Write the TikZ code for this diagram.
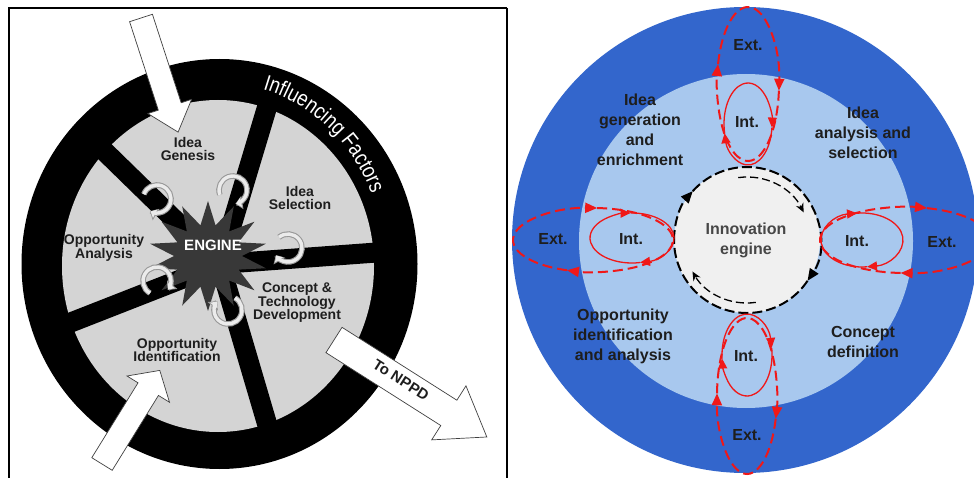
\documentclass[tikz,border=0pt]{standalone}
\usepackage{fontspec}
\setmainfont{Liberation Sans}
\newfontfamily\ringfont[FakeStretch=0.84]{Liberation Sans}
\usetikzlibrary{shapes.geometric,arrows.meta,decorations.text}

\definecolor{ringblue}{HTML}{3366CC}
\definecolor{innerblue}{HTML}{A8C8EE}
\definecolor{enginegray}{HTML}{F0F0F0}
\definecolor{loopred}{HTML}{F01818}
\definecolor{segmentgray}{HTML}{D4D4D4}
\definecolor{inkdark}{HTML}{1E1E1E}

\newcommand\ringstyle{\ringfont\fontsize{22}{22}\selectfont}

% block arrow: x, y of the tail centre, direction, length,
% shaft half width, head half width, head length
\newcommand\blockarrowat[7]{%
  \begin{scope}[shift={(#1,#2)}, rotate=#3]
    \filldraw[blockarrow] (0,-#5) -- ({#4-#7},-#5) -- ({#4-#7},-#6) -- (#4,0)
      -- ({#4-#7},#6) -- ({#4-#7},#5) -- (0,#5) -- cycle;
  \end{scope}}

% curled arrow wrapped round a spoke: centre x, y, start angle
\newcommand\curlat[3]{%
  \draw[curlout] (#1,#2) ++(#3:14) arc[start angle=#3, end angle={#3+280}, radius=14];
  \draw[curlin]  (#1,#2) ++(#3:14) arc[start angle=#3, end angle={#3+277}, radius=14];}

% closed loop with two arrow heads: style, centre, rx, ry, first tip angle, second tip angle
\newcommand\loopring[6]{%
  \pgfmathsetmacro\loopfrom{#6-360}%
  \draw[#1] (#2) ++(\loopfrom:#3 and #4) arc[start angle=\loopfrom, end angle=#5, x radius=#3, y radius=#4];
  \draw[#1] (#2) ++(#5:#3 and #4) arc[start angle=#5, end angle=#6, x radius=#3, y radius=#4];}

\begin{document}
\begin{tikzpicture}[x=1pt,y=-1pt,
  lab/.style={font=\bfseries\fontsize{14}{13.5}\selectfont, text=inkdark, align=center, inner sep=0pt},
  rlab/.style={font=\bfseries\fontsize{16}{20}\selectfont, text=inkdark, align=center, inner sep=0pt},
  blockarrow/.style={fill=white, draw=black!75, line width=0.7pt, line join=miter},
  curlout/.style={draw=black!40, line width=5.6pt, -{Triangle[length=7pt,width=13pt]}},
  curlin/.style={draw=white!92!black, line width=3.4pt, -{Triangle[length=5pt,width=9pt]}},
  spoke/.style={line width=20pt, black},
  intloop/.style={draw=loopred, line width=1.3pt, -{Triangle[length=10pt,width=9pt]}},
  extloop/.style={draw=loopred, line width=2pt, dash pattern=on 10pt off 5pt, -{Triangle[length=12pt,width=10pt]}},
  enginering/.style={draw=black, line width=2pt, dash pattern=on 10pt off 4pt},
  innerarc/.style={draw=black, line width=1.3pt, dash pattern=on 8pt off 4pt, -{Stealth[length=9pt,width=8pt]}}]

\useasboundingbox (0,0) rectangle (974,478);
\fill[white] (0,0) rectangle (974,478);

% ---------------- left panel: engine wheel ----------------
\draw[line width=2pt] (8.5,482) -- (8.5,8) -- (507,8);
\draw[line width=1.2pt] (507,8) -- (507,482);

\coordinate (L) at (220,264);
\fill[black] (219.5,264) ellipse[x radius=198, y radius=205];
\fill[segmentgray] (218,266) ellipse[x radius=156, y radius=166];
\foreach \a in {-135.7,-73.3,-4.2,73.6,158.6}
  \draw[spoke] (L) -- ++(\a:172);

\node[star, star points=14, star point ratio=1.75, minimum size=110pt,
      inner sep=0pt, fill=black!78, draw=none, xscale=1.08] (hub) at (208,256) {};
\node[font=\bfseries\fontsize{15}{15}\selectfont, text=white] (enginetxt) at (213,245) {ENGINE};

\curlat{157}{199}{200}
\curlat{233}{190}{160}
\curlat{288}{248}{230}
\curlat{157}{281}{120}
\curlat{228}{310}{300}

\node[lab] (genesis) at (188,149) {Idea\\Genesis};
\node[lab] (selection) at (300,198) {Idea\\Selection};
\node[lab] (oppan) at (104,248) {Opportunity\\Analysis};
\node[lab] (concept) at (297,303) {Concept \&\\Technology\\Development};
\node[lab] (oppid) at (177,350) {Opportunity\\Identification};

\blockarrowat{141}{18}{-72}{120}{12}{23}{27}
\blockarrowat{102}{464}{58.3}{110}{12}{25}{22}
\blockarrowat{334}{340}{-32.4}{181}{15}{32}{45}
\node[font=\bfseries\fontsize{15}{15}\selectfont, text=inkdark, rotate=-32.4] (nppd) at (401,380) {To NPPD};

\path[decorate, decoration={text along path, text align=center, text color=white,
      text={|\ringstyle|Influencing Factors}}]
  (219.5,264) ++(-80:165 and 181) arc[start angle=-80, end angle=-18, x radius=165, y radius=181];

% ---------------- right panel: innovation engine ----------------
\coordinate (R) at (745,240);
\coordinate (E) at (747,240);
\fill[ringblue] (R) circle[radius=233];
\fill[innerblue] (746,241) circle[radius=167];
\fill[enginegray] (E) circle[radius=73];

\draw[enginering, -{Triangle[length=12pt,width=10pt]}] (E) ++(180:73) arc[start angle=180, end angle=222, radius=73];
\draw[enginering, -{Triangle[length=12pt,width=10pt]}] (E) ++(222:73) arc[start angle=222, end angle=394, radius=73];
\draw[enginering] (E) ++(34:73) arc[start angle=34, end angle=180, radius=73];
\draw[innerarc] (E) ++(-98:63) arc[start angle=-98, end angle=-26, radius=63];
\draw[innerarc] (E) ++(82:63) arc[start angle=82, end angle=150, radius=63];

\coordinate (intN) at (748,124);
\coordinate (extN) at (748,84);
\coordinate (intW) at (632,238);
\coordinate (extW) at (593,240);
\coordinate (intE) at (862,240);
\coordinate (extE) at (905,240);
\coordinate (intS) at (747,355);
\coordinate (extS) at (747,396);

\loopring{extloop}{extN}{31}{77}{5}{195}
\loopring{intloop}{intN}{24}{41}{5}{167}
\loopring{extloop}{extW}{80}{32}{109}{273}
\loopring{intloop}{intW}{42}{25}{79}{268}
\loopring{extloop}{extE}{85}{33}{93}{285}
\loopring{intloop}{intE}{41}{27}{83}{263}
\loopring{extloop}{extS}{30}{78}{17}{182}
\loopring{intloop}{intS}{25}{41}{175}{350}

\node[rlab] (extNt) at (748,45) {Ext.};
\node[rlab] (intNt) at (747,122) {Int.};
\node[rlab] (extWt) at (553,239) {Ext.};
\node[rlab] (intWt) at (631,239) {Int.};
\node[rlab] (extEt) at (942,242) {Ext.};
\node[rlab] (intEt) at (857,241) {Int.};
\node[rlab] (extSt) at (747,435) {Ext.};
\node[rlab] (intSt) at (746,356) {Int.};

\node[rlab] (gen) at (640,130) {Idea\\generation\\and\\enrichment};
\node[rlab] (ana) at (863,133) {Idea\\analysis and\\selection};
\node[rlab] (opp) at (623,336) {Opportunity\\identification\\and analysis};
\node[rlab] (def) at (863,342) {Concept\\definition};
\node[rlab, text=black!72] (inno) at (746,240) {Innovation\\engine};

\end{tikzpicture}
\end{document}
